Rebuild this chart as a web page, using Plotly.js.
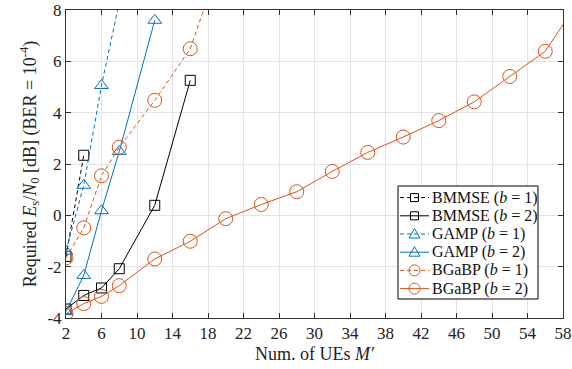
<!DOCTYPE html>
<html>
<head>
<meta charset="utf-8">
<script src="https://cdn.plot.ly/plotly-3.0.1.min.js"></script>
<style>html,body{margin:0;padding:0;background:#fff;}#chart{width:572px;height:369px;}</style>
</head>
<body>
<div id="chart"></div>
<script>
// Data
const bmmse1X = [2, 4];
const bmmse1Y = [-1.6, 2.34];
const bmmse2X = [2, 4, 6, 8, 12, 16];
const bmmse2Y = [-3.65, -3.12, -2.83, -2.08, 0.39, 5.26];
const gamp1X = [2, 4, 6, 8];
const gamp1Y = [-1.4, 1.17, 5.06, 8.3];
const gamp2X = [2, 4, 6, 8, 12];
const gamp2Y = [-3.75, -2.34, 0.18, 2.49, 7.6];
const bgabp1X = [2, 4, 6, 8, 12, 16, 20];
const bgabp1Y = [-1.66, -0.49, 1.54, 2.65, 4.48, 6.49, 10.5];
const bgabp2X = [2, 4, 6, 8, 12, 16, 20, 24, 28, 32, 36, 40, 44, 48, 52, 56, 60];
const bgabp2Y = [-3.83, -3.44, -3.16, -2.74, -1.7, -1.01, -0.13, 0.42, 0.92, 1.71, 2.45, 3.05, 3.69, 4.42, 5.41, 6.39, 8.47];

const seriesNames = ["BMMSE (<i>b</i> = 1)", "BMMSE (<i>b</i> = 2)", "GAMP (<i>b</i> = 1)", "GAMP (<i>b</i> = 2)", "BGaBP (<i>b</i> = 1)", "BGaBP (<i>b</i> = 2)"];
const xTickVals = [2, 6, 10, 14, 18, 22, 26, 30, 34, 38, 42, 46, 50, 54, 58];
const yTickVals = [-4, -2, 0, 2, 4, 6, 8];
const yTickText = ["-4", "-2", "0", "2", "4", "6", "8"];

const black = '#000000', blue = '#0072BD', orange = '#D95319';
const dashStyle = '4px,3px';
const FAM = 'Liberation Serif';

const styles = [
  {color: black, dash: dashStyle, symbol: 'square-open', size: 10},
  {color: black, dash: 'solid', symbol: 'square-open', size: 10},
  {color: blue, dash: dashStyle, symbol: 'triangle-up-open', size: 12},
  {color: blue, dash: 'solid', symbol: 'triangle-up-open', size: 12},
  {color: orange, dash: dashStyle, symbol: 'circle-open', size: 14},
  {color: orange, dash: 'solid', symbol: 'circle-open', size: 14}
];
const xs = [bmmse1X, bmmse2X, gamp1X, gamp2X, bgabp1X, bgabp2X];
const ys = [bmmse1Y, bmmse2Y, gamp1Y, gamp2Y, bgabp1Y, bgabp2Y];

const data = xs.map((x, i) => ({
  x: x, y: ys[i], name: seriesNames[i], type: 'scatter', mode: 'lines+markers',
  line: {color: styles[i].color, width: 1, dash: styles[i].dash},
  marker: {symbol: styles[i].symbol, size: styles[i].size, color: styles[i].color, line: {color: styles[i].color, width: 1}},
  cliponaxis: true, showlegend: false
}));

// Layout geometry (pixels)
const W = 572, H = 369, ML = 66, MR = 9, MT = 10, MB = 51;
const PW = W - ML - MR, PH = H - MT - MB;
const px = v => (v - ML) / PW;
const py = v => (H - MB - v) / PH;

// Manual legend (compact, like the reference)
const legBox = {x0: 398, x1: 538, y0: 186, y1: 299};
const rowY0 = 197.6, rowStep = 18.2;
const lineX0 = 400, lineX1 = 429, markX = 414.5, textX = 431;

const shapes = [{
  type: 'rect', xref: 'paper', yref: 'paper', layer: 'above',
  x0: px(legBox.x0), x1: px(legBox.x1), y0: py(legBox.y1), y1: py(legBox.y0),
  fillcolor: '#fff', line: {color: '#000', width: 1}
}];
const annotations = [];
styles.forEach((s, i) => {
  const yy = py(rowY0 + i * rowStep);
  shapes.push({type: 'line', xref: 'paper', yref: 'paper', layer: 'above',
    x0: px(lineX0), x1: px(lineX1), y0: yy, y1: yy, line: {color: s.color, width: 1, dash: s.dash}});
  const base = {xref: 'paper', yref: 'paper', layer: 'above', xsizemode: 'pixel', ysizemode: 'pixel',
    xanchor: px(markX), yanchor: yy, line: {color: s.color, width: 1}, fillcolor: 'rgba(0,0,0,0)'};
  if (s.symbol === 'square-open') {
    shapes.push(Object.assign({type: 'rect', x0: -4, x1: 4, y0: -4, y1: 4}, base));
  } else if (s.symbol === 'circle-open') {
    shapes.push(Object.assign({type: 'circle', x0: -5.5, x1: 5.5, y0: -5.5, y1: 5.5}, base));
  } else {
    shapes.push(Object.assign({type: 'path', path: 'M 0 5.5 L 5.5 -4 L -5.5 -4 Z'}, base));
  }
  annotations.push({xref: 'paper', yref: 'paper', x: px(textX), y: yy, xanchor: 'left', yanchor: 'middle',
    text: seriesNames[i], showarrow: false, borderpad: 0,
    font: {family: FAM, size: 16, color: '#111'}});
});

const layout = {
  width: W, height: H,
  margin: {l: ML, r: MR, t: MT, b: MB},
  paper_bgcolor: '#fff', plot_bgcolor: '#fff',
  font: {family: FAM, size: 16, color: '#222'},
  showlegend: false,
  shapes: shapes,
  annotations: annotations,
  xaxis: {
    range: [2, 58], tickvals: xTickVals, ticktext: xTickVals.map(String),
    showgrid: true, gridcolor: '#e3e3e3', gridwidth: 1,
    zeroline: false, showline: true, linecolor: '#333', linewidth: 1, mirror: 'ticks',
    ticks: 'inside', ticklen: 5, tickcolor: '#333',
    tickfont: {family: FAM, size: 17, color: '#222'},
    title: {text: 'Num. of UEs <i>M′</i>', font: {family: FAM, size: 18, color: '#222'}, standoff: 4}
  },
  yaxis: {
    range: [-4, 8], tickvals: yTickVals, ticktext: yTickText,
    showgrid: true, gridcolor: '#e3e3e3', gridwidth: 1,
    zeroline: false, showline: true, linecolor: '#333', linewidth: 1, mirror: 'ticks',
    ticks: 'inside', ticklen: 5, tickcolor: '#333',
    tickfont: {family: FAM, size: 17, color: '#222'},
    title: {text: 'Required <i>E</i><sub>s</sub>/<i>N</i><sub>0</sub> [dB] (BER = 10<sup>-4</sup>)', font: {family: FAM, size: 18, color: '#222'}, standoff: 6}
  }
};

Plotly.newPlot('chart', data, layout, {displayModeBar: false, staticPlot: true});
</script>
</body>
</html>
